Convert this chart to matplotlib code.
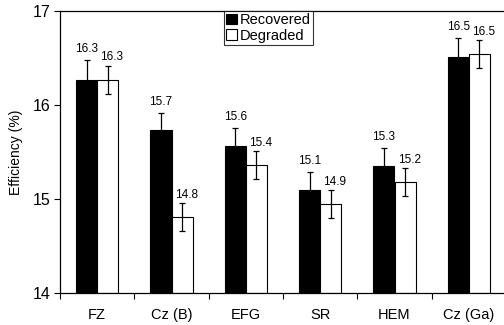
import matplotlib
matplotlib.use("Agg")
import matplotlib.pyplot as plt
import numpy as np

plt.rcParams['font.family'] = ['Liberation Sans', 'DejaVu Sans']

categories = ["FZ", "Cz (B)", "EFG", "SR", "HEM", "Cz (Ga)"]
recovered = [16.27, 15.73, 15.56, 15.10, 15.35, 16.51]
degraded = [16.27, 14.81, 15.36, 14.95, 15.18, 16.54]
recovered_err = [0.21, 0.19, 0.20, 0.19, 0.19, 0.20]
degraded_err = [0.15, 0.15, 0.15, 0.15, 0.15, 0.15]
recovered_labels = ["16.3", "15.7", "15.6", "15.1", "15.3", "16.5"]
degraded_labels = ["16.3", "14.8", "15.4", "14.9", "15.2", "16.5"]

fig = plt.figure(figsize=(5.04, 3.25), dpi=100)
W, H = 504, 325
ax = fig.add_axes([60 / W, 1 - 293 / H, (506 - 60) / W, (293 - 11) / H])

x = np.arange(len(categories))
w = 0.285
ax.bar(x - w / 2, [v - 14 for v in recovered], w, bottom=14, color='black',
       edgecolor='black', linewidth=0.8, label='Recovered')
ax.bar(x + w / 2, [v - 14 for v in degraded], w, bottom=14, color='white',
       edgecolor='black', linewidth=0.8, label='Degraded')
ax.errorbar(x - w / 2, recovered, yerr=recovered_err, fmt='none', ecolor='black',
            elinewidth=0.9, capsize=2, capthick=0.9)
ax.errorbar(x + w / 2, degraded, yerr=degraded_err, fmt='none', ecolor='black',
            elinewidth=0.9, capsize=2, capthick=0.9)

for xi, v, e, lab in zip(x, recovered, recovered_err, recovered_labels):
    ax.annotate(lab, (xi - w / 2, v + e), xytext=(0, 3.5), textcoords='offset points',
                ha='center', va='bottom', fontsize=8.5)
for xi, v, e, lab in zip(x, degraded, degraded_err, degraded_labels):
    ax.annotate(lab, (xi + w / 2, v + e), xytext=(3, 1.5), textcoords='offset points',
                ha='center', va='bottom', fontsize=8.5)

ax.set_xlim(-0.5, len(categories) - 0.5)
ax.set_ylim(14, 17)
ax.set_yticks([14, 15, 16, 17])
ax.set_yticklabels(['14', '15', '16', '17'], fontsize=11.5)
ax.set_xticks(np.arange(len(categories) + 1) - 0.5)
ax.set_xticklabels([])
ax.set_xticks(x, minor=True)
ax.set_xticklabels(categories, minor=True, fontsize=10.5)
ax.tick_params(axis='x', which='minor', length=0, pad=11)
ax.tick_params(axis='x', which='major', direction='out', length=4, width=0.8)
ax.tick_params(axis='y', direction='out', length=4, width=0.8, pad=3)
ax.set_ylabel('Efficiency (%)', fontsize=10, labelpad=7)
for s in ['left', 'bottom', 'top']:
    ax.spines[s].set_linewidth(0.9)
ax.spines['right'].set_visible(False)

leg = ax.legend(loc='upper left', bbox_to_anchor=((224 - 60) / (506 - 60), 1.0),
                fontsize=10.5, frameon=True, fancybox=False, edgecolor='black',
                handlelength=0.75, handleheight=0.75, handletextpad=0.15,
                borderpad=0.15, labelspacing=0.1, borderaxespad=0)
leg.get_frame().set_linewidth(0.8)

fig.savefig('out.png', dpi=100)
